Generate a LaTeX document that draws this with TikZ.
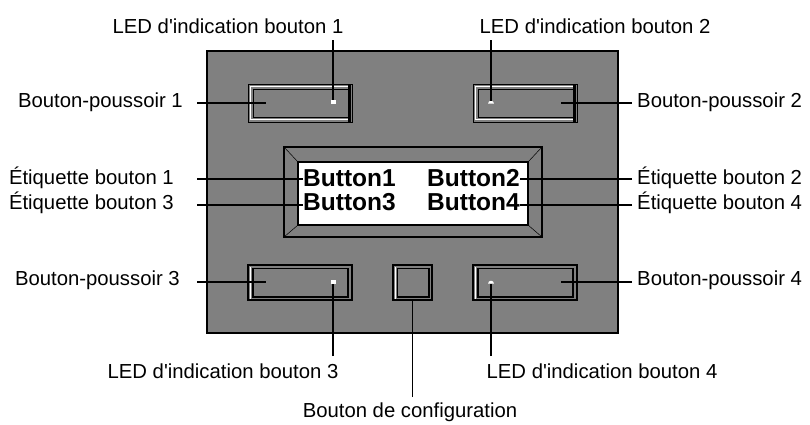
\documentclass[tikz,border=0pt]{standalone}
\usepackage{fontspec}
\usetikzlibrary{shapes.geometric}
\setmainfont{Liberation Sans}
\definecolor{panelgray}{RGB}{128,128,128}
\begin{document}
\begin{tikzpicture}[x=1pt,y=-1pt,
  lbl/.style={inner sep=0pt, font=\fontsize{20.3}{22}\selectfont},
  conn/.style={draw=black, line width=1.1pt},
  lcdtxt/.style={inner sep=0pt, anchor=west, font=\fontsize{24.5}{26}\selectfont\bfseries},
  ledsq/.style={fill=white, draw=none, minimum width=5pt, minimum height=3.5pt, inner sep=0pt},
  leddome/.style={fill=white, draw=none, shape=semicircle, minimum width=6pt, inner sep=0pt}]
\useasboundingbox[fill=white] (0,0) rectangle (810,424);

% panel
\draw[fill=panelgray, line width=1.5pt] (207,51) rectangle (618,333);

% top buttons (pressed look)
\foreach \x in {248,473}{
  \draw[line width=1pt] (\x,84) rectangle ++(104,38);
  \draw[white, line width=1pt] (\x+101,86.5) -- (\x+2.5,86.5) -- (\x+2.5,119.5) -- (\x+101,119.5);
  \draw[line width=1pt] (\x+5,89) rectangle (\x+100,117);
  \draw[line width=3pt] (\x+101.5,84) -- (\x+101.5,122);
}
% bottom buttons (raised look)
\foreach \x in {248,473}{
  \draw[line width=2.4pt] (\x,265) rectangle ++(104,35);
  \draw[line width=1.2pt] (\x+5,268.5) rectangle (\x+100,297);
  \draw[white, line width=1pt] (\x+2.7,267) -- (\x+2.7,298.5);
}
% configuration button
\draw[line width=2.4pt] (393,265) rectangle (432,300);
\draw[line width=1.2pt] (397.5,268.5) rectangle (429,297);
\node[draw=none, inner sep=0pt, minimum size=0pt] (cfg) at (412.5,300) {};
\draw[white, line width=1pt] (395.5,267) -- (395.5,298.5);

% LCD
\draw[fill=panelgray, line width=1.3pt] (284,147) rectangle (542,237);
\draw[line width=0.5pt] (284,147) -- (298,162) (542,147) -- (528,162)
  (284,237) -- (298,225) (542,237) -- (528,225);
\draw[fill=white, line width=1.3pt] (298,162) rectangle (528,225);
\node[lcdtxt] (b1) at (303,178) {Button1};
\node[lcdtxt] (b2) at (427,178) {Button2};
\node[lcdtxt] (b3) at (303,202) {Button3};
\node[lcdtxt] (b4) at (427,202) {Button4};

% LEDs
\node[ledsq] (led1) at (333,102) {};
\node[leddome] (led2) at (491,102.5) {};
\node[ledsq] (led3) at (333,282) {};
\node[leddome] (led4) at (491,282.5) {};

% labels
\node[lbl, anchor=base] (tled1) at (228,33) {LED d\textquotesingle indication bouton 1};
\node[lbl, anchor=base] (tled2) at (595,33) {LED d\textquotesingle indication bouton 2};
\node[lbl, anchor=base east] (tbp1) at (183,107) {Bouton-poussoir 1};
\node[lbl, anchor=base west] (tbp2) at (637,107) {Bouton-poussoir 2};
\node[lbl, anchor=base east] (tet1) at (174,184) {Étiquette bouton 1};
\node[lbl, anchor=base east] (tet3) at (174,209) {Étiquette bouton 3};
\node[lbl, anchor=base west] (tet2) at (637,184) {Étiquette bouton 2};
\node[lbl, anchor=base west] (tet4) at (637,209) {Étiquette bouton 4};
\node[lbl, anchor=base east] (tbp3) at (180,285) {Bouton-poussoir 3};
\node[lbl, anchor=base west] (tbp4) at (637,285) {Bouton-poussoir 4};
\node[lbl, anchor=base] (tled3) at (223,378) {LED d\textquotesingle indication bouton 3};
\node[lbl, anchor=base] (tled4) at (602,378) {LED d\textquotesingle indication bouton 4};
\node[lbl, anchor=base] (tcfg) at (410,417) {Bouton de configuration};

% connector free ends
\coordinate (c1) at (333,40);
\coordinate (c2) at (491,40);
\coordinate (cbp1) at (197,103);
\coordinate (ebp1) at (266,103);
\coordinate (cbp2) at (632,103);
\coordinate (ebp2) at (561,103);
\coordinate (cet1) at (197,179);
\coordinate (cet3) at (197,205);
\coordinate (cet2) at (632,179);
\coordinate (cet4) at (632,205);
\coordinate (cbp3) at (197,282);
\coordinate (ebp3) at (266,282);
\coordinate (cbp4) at (632,282);
\coordinate (ebp4) at (561,282);
\coordinate (c3) at (333,356);
\coordinate (c4) at (491,356);
\coordinate (ccfg) at (412.5,397);

\draw[conn] (c1) -- (led1.north);
\draw[conn] (c2) -- (led2.north);
\draw[conn] (cbp1) -- (ebp1);
\draw[conn] (cbp2) -- (ebp2);
\draw[conn] (cet1) -- (b1.west |- cet1);
\draw[conn] (cet3) -- (b3.west |- cet3);
\draw[conn] (cet2) -- (b2.east |- cet2);
\draw[conn] (cet4) -- (b4.east |- cet4);
\draw[conn] (cbp3) -- (ebp3);
\draw[conn] (cbp4) -- (ebp4);
\draw[conn] (c3) -- (led3.south);
\draw[conn] (c4) -- (led4.south);
\draw[conn] (ccfg) -- (cfg);
\end{tikzpicture}
\end{document}
